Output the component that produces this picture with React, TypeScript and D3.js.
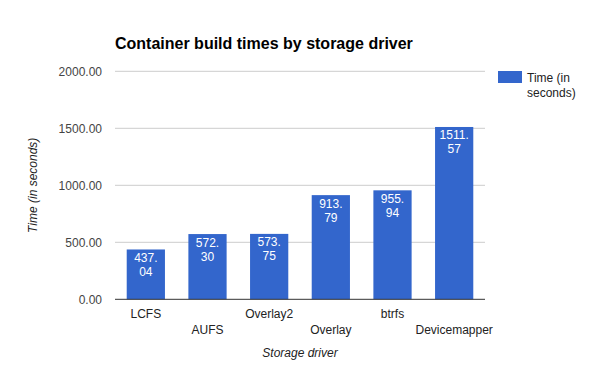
import React, { useEffect, useRef } from 'react'
import * as d3 from 'd3'

// values
const drivers = ['LCFS', 'AUFS', 'Overlay2', 'Overlay', 'btrfs', 'Devicemapper']
const times = [437.04, 572.3, 573.75, 913.79, 955.94, 1511.57]
const yTicks = [0, 500, 1000, 1500, 2000]

const W = 600
const H = 371
const FONT = 'Arial, "Liberation Sans", sans-serif'
const FS = 12

export default function App() {
  const svgRef = useRef<SVGSVGElement>(null)

  useEffect(() => {
    if (!svgRef.current) return
    const svg = d3.select(svgRef.current)
    svg.selectAll('*').remove()

    const left = 115, right = 485, top = 71.3, bottom = 299.3

    const x = d3.scaleBand().domain(drivers).range([left, right]).paddingInner(0.38).paddingOuter(0.19)
    const y = d3.scaleLinear().domain([0, 2000]).range([bottom, top])

    // title
    svg.append('text')
      .attr('x', left).attr('y', 49)
      .attr('font-family', FONT).attr('font-size', 16).attr('font-weight', 'bold')
      .attr('fill', '#000')
      .text('Container build times by storage driver')

    // grid
    const grid = svg.append('g')
    grid.selectAll('line').data(yTicks.filter(t => t > 0)).enter().append('line')
      .attr('x1', left).attr('x2', right)
      .attr('y1', d => y(d)).attr('y2', d => y(d))
      .attr('stroke', '#ccc').attr('stroke-width', 1)

    grid.selectAll('text').data(yTicks).enter().append('text')
      .attr('x', 102).attr('y', d => y(d) + 4.5)
      .attr('text-anchor', 'end')
      .attr('font-family', FONT).attr('font-size', FS).attr('fill', '#444')
      .text(d => d.toFixed(2))

    // bars
    const bars = svg.append('g')
    bars.selectAll('rect').data(times).enter().append('rect')
      .attr('x', (d, i) => x(drivers[i])!)
      .attr('width', x.bandwidth())
      .attr('y', d => y(d))
      .attr('height', d => bottom - y(d))
      .attr('fill', '#3366cc')

    // value labels, split after the decimal point
    times.forEach((v, i) => {
      const [a, b] = v.toFixed(2).split('.')
      const cx = x(drivers[i])! + x.bandwidth() / 2
      const t = svg.append('text')
        .attr('text-anchor', 'middle')
        .attr('font-family', FONT).attr('font-size', FS).attr('fill', '#fff')
      t.append('tspan').attr('x', cx).attr('y', y(v) + 12.5).text(a + '.')
      t.append('tspan').attr('x', cx).attr('y', y(v) + 26.5).text(b)
    })

    // baseline
    svg.append('line')
      .attr('x1', left).attr('x2', right)
      .attr('y1', bottom).attr('y2', bottom)
      .attr('stroke', '#333').attr('stroke-width', 1)

    // x labels, staggered in two rows
    svg.append('g').selectAll('text').data(drivers).enter().append('text')
      .attr('x', d => x(d)! + x.bandwidth() / 2)
      .attr('y', (d, i) => (i % 2 === 0 ? 318 : 334))
      .attr('text-anchor', 'middle')
      .attr('font-family', FONT).attr('font-size', FS).attr('fill', '#222')
      .text(d => d)

    // axis titles
    svg.append('text')
      .attr('x', (left + right) / 2).attr('y', 357)
      .attr('text-anchor', 'middle')
      .attr('font-family', FONT).attr('font-size', FS).attr('font-style', 'italic').attr('fill', '#222')
      .text('Storage driver')

    svg.append('text')
      .attr('transform', `translate(37,${(top + bottom) / 2}) rotate(-90)`)
      .attr('text-anchor', 'middle')
      .attr('font-family', FONT).attr('font-size', FS).attr('font-style', 'italic').attr('fill', '#222')
      .text('Time (in seconds)')

    // legend
    svg.append('rect').attr('x', 498).attr('y', 71).attr('width', 24).attr('height', 12).attr('fill', '#3366cc')
    const lg = svg.append('text').attr('font-family', FONT).attr('font-size', FS).attr('fill', '#222')
    lg.append('tspan').attr('x', 527).attr('y', 82).text('Time (in')
    lg.append('tspan').attr('x', 527).attr('y', 97).text('seconds)')
  }, [])

  return (
    <div style={{ position: 'absolute', left: 0, top: 0, background: '#fff' }}>
      <svg ref={svgRef} width={W} height={H} style={{ display: 'block' }} />
    </div>
  )
}
